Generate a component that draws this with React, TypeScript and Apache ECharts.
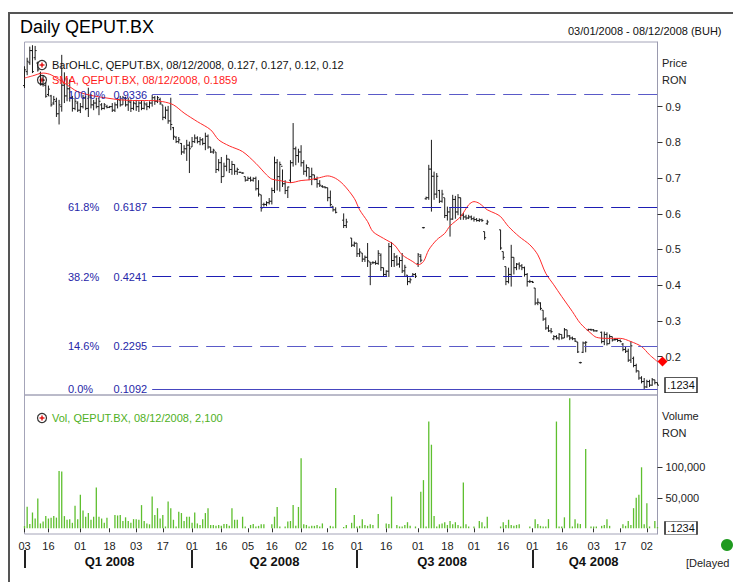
import React, { useEffect, useRef } from 'react';
import * as echarts from 'echarts';

const FONT = '"Liberation Sans", Arial, sans-serif';

// trading calendar (BUH) 03/01/2008 - 08/12/2008
const holidays = ['2008-04-28', '2008-05-01', '2008-05-02', '2008-12-01'];

// x-axis tick labels (trading-day index -> label)
const tickDays = [0, 9, 21, 32, 42, 52, 63, 74, 84, 93, 104, 114, 125, 136, 148, 159, 169, 180, 191, 202, 214, 224, 234];
const tickLabels = ['03', '16', '01', '18', '03', '17', '01', '16', '05', '16', '02', '16', '01', '16', '01', '18', '01', '16', '01', '16', '03', '17', '02'];
const quarterSepDays = [0, 63, 125, 191];
const quarterLabelDays = [32, 94, 157, 214];
const quarterLabels = ['Q1 2008', 'Q2 2008', 'Q3 2008', 'Q4 2008'];

// OHLC in thousandths of RON (null = no trade)
const highK = [
  1013, 1037, 1068, 1072, 1070, 1026, 998, 988, 967, 959,
  933, 930, 925, 919, 1045, 996, 980, 976, 930, 925,
  915, 910, 933, 930, 953, 935, 919, 925, 925, 910,
  910, 905, 902, 910, 912, 925, 930, 930, 928, 925,
  920, 915, 919, 915, 918, 915, 912, 915, 933, 930,
  930, 925, 905, 900, 902, 925, 843, 817, 815, 798,
  792, 807, 802, 815, 822, 817, 815, 812, 827, 822,
  787, 782, 773, 753, 759, 743, 765, 753, 748, 738,
  729, 718, 716, 704, 704, 704, 702, 704, 694, 653,
  631, 635, 644, 673, 760, 753, 746, 724, 694, 676,
  750, 854, 788, 782, 792, 750, 738, 729, 729, 709,
  704, 694, 680, 677, 673, 665, 621, 618, null, null,
  601, 586, null, 532, 522, 518, 503, 490, 483, 518,
  465, 467, 469, 498, 489, 449, 442, 518, 521, 490,
  484, 479, 490, 457, 428, 421, 434, 434, 490, 487,
  563, 648, 737, 807, 718, 714, 667, 667, 644, 620,
  616, 653, 650, 655, 645, 602, 597, 597, 595, 592,
  588, 587, 586, 550, 583, null, null, null, null, 555,
  494, 452, 449, 513, 478, 462, 464, 459, 452, 434,
  415, 412, 392, 363, 352, 330, 310, 288, 280, 260,
  260, 266, 262, 280, 275, 260, 256, 252, 241, 184,
  242, 243, 278, 278, 277, 274, null, 270, 270, 268,
  262, 256, 252, 251, 248, 238, 228, 222, 243, 200,
  180, 160, 145, 140, 135, 135, 140, 135, 127,
];
const lowK = [
  952, 988, 1017, 994, 1030, 998, 959, 956, 925, 929,
  900, 905, 871, 850, 886, 910, 915, 914, 886, 890,
  885, 882, 895, 890, 871, 895, 890, 895, 876, 890,
  892, 895, 896, 885, 885, 895, 900, 905, 900, 888,
  885, 890, 888, 885, 890, 892, 890, 895, 900, 905,
  910, 905, 862, 865, 852, 834, 807, 798, 797, 765,
  768, 748, 714, 787, 798, 797, 792, 792, 778, 782,
  770, 768, 714, 719, 686, 704, 719, 714, 709, 709,
  709, 714, 712, 690, 692, 690, 690, 665, 648, 606,
  620, 621, 626, 626, 658, 665, 662, 675, 655, 644,
  686, 732, 736, 743, 732, 709, 704, 694, 680, 694,
  673, 675, 673, 671, 635, 620, 606, 601, null, null,
  560, 560, null, 507, 507, 479, 479, 465, 465, 451,
  400, 459, 457, 457, 440, 423, 423, 423, 451, 451,
  454, 449, 434, 423, 400, 405, 423, 420, 451, 464,
  559, 639, 639, 606, 639, 644, 630, 631, 588, 581,
  536, 583, 586, 596, 583, 583, 583, 585, 582, 578,
  578, 577, 577, 527, 569, null, null, null, null, 499,
  471, 400, 405, 396, 430, 442, 444, 442, 424, 396,
  406, 406, 344, 344, 330, 300, 275, 269, 265, 246,
  248, 246, 248, 252, 253, 246, 246, 241, 210, 182,
  210, 212, 272, 272, 270, 270, null, 237, 232, 231,
  236, 242, 244, 241, 240, 215, 210, 185, 182, 170,
  155, 135, 125, 109, 112, 115, 118, 122, 120,
];
const openK = [
  959, 998, 1023, 1057, 1037, 1022, 993, 964, 959, 934,
  930, 910, 915, 880, 900, 960, 930, 950, 925, 895,
  910, 890, 900, 925, 895, 925, 905, 910, 900, 905,
  895, 900, 898, 900, 890, 905, 918, 905, 922, 905,
  912, 895, 908, 900, 910, 895, 905, 900, 910, 925,
  915, 920, 905, 870, 890, 860, 841, 814, 802, 797,
  773, 782, 792, 787, 802, 812, 802, 807, 797, 817,
  787, 773, 773, 724, 743, 704, 733, 753, 724, 738,
  719, 716, 714, 704, 694, 699, 694, 699, 670, 653,
  626, 626, 631, 635, 665, 743, 704, 733, 684, 665,
  694, 743, 782, 763, 773, 743, 719, 729, 704, 709,
  696, 684, 677, 675, 673, 645, 621, 611, null, null,
  582, 567, null, 532, 512, 518, 488, 490, 473, 478,
  465, 463, 463, 461, 484, 449, 430, 439, 508, 469,
  479, 459, 469, 440, 428, 410, 425, 430, 460, 480,
  561, 642, 645, 725, 705, 655, 665, 635, 645, 595,
  605, 585, 640, 605, 645, 596, 591, 588, 591, 586,
  584, 581, 583, 550, 572, null, null, null, null, 555,
  494, 452, 410, 430, 478, 449, 459, 454, 449, 430,
  410, 410, 392, 350, 350, 330, 305, 280, 272, 250,
  256, 252, 262, 252, 275, 258, 252, 250, 241, 183,
  212, 238, 274, 276, 275, 272, null, 268, 242, 262,
  236, 256, 248, 248, 245, 235, 220, 215, 190, 195,
  175, 160, 140, 130, 115, 130, 120, 135, 127,
];
const closeK = [
  1003, 1027, 1057, 998, 1057, 1003, 964, 974, 929, 949,
  905, 920, 880, 905, 960, 930, 950, 925, 895, 915,
  890, 900, 925, 895, 930, 905, 910, 900, 915, 895,
  905, 898, 900, 890, 905, 920, 905, 925, 905, 915,
  895, 910, 900, 910, 895, 908, 900, 910, 925, 915,
  925, 910, 870, 890, 860, 850, 817, 802, 807, 773,
  782, 792, 782, 802, 812, 802, 807, 797, 817, 787,
  773, 778, 724, 743, 704, 733, 753, 724, 738, 719,
  724, 716, 714, 694, 699, 694, 699, 670, 655, 616,
  626, 631, 635, 665, 743, 704, 738, 684, 665, 675,
  743, 782, 763, 773, 743, 719, 729, 704, 709, 696,
  684, 680, 675, 673, 645, 626, 611, 604, null, null,
  567, 577, null, 512, 517, 488, 493, 473, 478, 468,
  459, 463, 461, 489, 449, 430, 439, 508, 469, 479,
  459, 469, 440, 450, 410, 415, 430, 425, 485, 470,
  561, 645, 725, 705, 655, 705, 635, 655, 595, 605,
  585, 640, 605, 645, 596, 591, 588, 591, 586, 584,
  581, 583, 581, 533, 577, null, null, null, null, 504,
  478, 410, 430, 478, 449, 459, 454, 449, 430, 410,
  410, 408, 350, 352, 335, 305, 280, 272, 270, 256,
  252, 262, 252, 275, 258, 252, 250, 243, 213, 183,
  238, 240, 276, 275, 272, 272, null, 242, 262, 236,
  256, 246, 248, 245, 242, 220, 215, 190, 230, 175,
  160, 140, 130, 115, 130, 120, 135, 127, 120,
];

const volume = [
  3800, 35500, 7000, 25700, 16000, 49000, 8000, 11000, 20000, 16000,
  17500, 20000, 17500, 94000, 93000, 20000, 14000, 15000, 9000, 37000,
  15000, 55000, 29000, 19000, 25000, 14000, 19000, 67000, 19000, 16000,
  9000, 17500, 0, 0, 22000, 21000, 22000, 12000, 18000, 12000,
  9000, 15000, 15000, 14000, 38000, 12000, 8000, 6500, 52000, 22000,
  33000, 16000, 22000, 3000, 44000, 33000, 14000, 3000, 27000, 25000,
  12000, 19000, 19000, 9000, 26000, 8000, 5500, 15000, 25000, 33000,
  5500, 5500, 4000, 5500, 4000, 7000, 7000, 4000, 33000, 14000,
  14000, 0, 19000, 3000, 0, 5500, 7000, 3000, 4000, 6500,
  6500, 0, 0, 6500, 19000, 35000, 3000, 0, 3000, 11000,
  12000, 38000, 4000, 35000, 115000, 6500, 5500, 3000, 4000, 4000,
  5500, 3000, 8000, 0, 0, 4000, 3000, 66000, 0, 0,
  2000, 5500, 0, 9000, 22000, 3000, 4000, 15000, 5500, 4000,
  6500, 5500, 0, 23500, 0, 0, 8000, 7000, 52000, 0,
  5500, 3000, 3000, 5500, 10000, 4000, 0, 3000, 0, 60000,
  79000, 3000, 175000, 137000, 20000, 3000, 6500, 8000, 10000, 5500,
  12000, 6500, 10000, 5500, 3000, 75000, 6500, 3000, 0, 3000,
  0, 12000, 10000, 3000, 19000, 0, 0, 0, 0, 3000,
  10000, 5500, 14000, 5500, 4000, 5500, 6500, 0, 0, 0,
  3000, 0, 15000, 7000, 4000, 3000, 3000, 15000, 0, 0,
  175000, 3000, 3000, 18000, 0, 213000, 3000, 15000, 8000, 7000,
  0, 130000, 0, 3000, 3000, 3000, 0, 4000, 5500, 15000,
  4000, 0, 0, 0, 0, 6500, 4000, 12000, 5500, 33000,
  50000, 55000, 100000, 6500, 41000, 3000, 0, 12000, 2100,
];

// SMA (trading-day index, value)
const smaDays = [0, 3, 7, 10, 15, 20, 26, 31, 36, 42, 48, 52, 56, 60, 65, 70, 73, 77, 82, 87, 91, 93, 96, 100, 104, 107, 111, 114, 117, 120, 124, 126, 129, 131, 135, 139, 142, 146, 148, 150, 152, 155, 158, 160, 164, 167, 169, 171, 174, 177, 179, 182, 186, 190, 193, 196, 199, 202, 206, 209, 213, 215, 219, 224, 228, 232, 235, 238];
const smaVals = [0.98, 0.986, 0.994, 0.989, 0.966, 0.942, 0.93, 0.924, 0.919, 0.917, 0.917, 0.914, 0.905, 0.882, 0.858, 0.835, 0.807, 0.79, 0.774, 0.741, 0.709, 0.697, 0.693, 0.687, 0.693, 0.695, 0.701, 0.706, 0.699, 0.681, 0.643, 0.611, 0.578, 0.55, 0.531, 0.513, 0.485, 0.466, 0.457, 0.466, 0.499, 0.527, 0.545, 0.566, 0.592, 0.625, 0.634, 0.629, 0.611, 0.601, 0.592, 0.564, 0.536, 0.513, 0.485, 0.433, 0.401, 0.368, 0.326, 0.293, 0.265, 0.254, 0.251, 0.251, 0.242, 0.228, 0.205, 0.1859];

// Fibonacci retracement levels
const fibPct = ['100.0%', '61.8%', '38.2%', '14.6%', '0.0%'];
const fibVal = [0.9336, 0.6187, 0.4241, 0.2295, 0.1092];
const fibStartDay = 48;

const priceTicks = [0.2, 0.3, 0.4, 0.5, 0.6, 0.7, 0.8, 0.9];
const volTicks = [50000, 100000];
const lastClose = 0.12;
const lastVol = 2100;

function buildDates(): string[] {
  const out: string[] = [];
  const end = Date.UTC(2008, 11, 8);
  for (let t = Date.UTC(2008, 0, 3); t <= end; t += 86400000) {
    const d = new Date(t);
    const wd = d.getUTCDay();
    if (wd === 0 || wd === 6) continue;
    const y = d.getUTCFullYear();
    const m = String(d.getUTCMonth() + 1).padStart(2, '0');
    const dd = String(d.getUTCDate()).padStart(2, '0');
    if (holidays.includes(`${y}-${m}-${dd}`)) continue;
    out.push(`${dd}/${m}/${y}`);
  }
  return out;
}

export default function App() {
  const ref = useRef<HTMLDivElement>(null);
  useEffect(() => {
    if (!ref.current) return;
    const chart = echarts.init(ref.current, null, { renderer: 'svg' });
    const dates = buildDates();
    const last = dates.length - 1;

    const ohlc: number[][] = [];
    for (let i = 0; i < highK.length; i++) {
      if (highK[i] == null) continue;
      ohlc.push([i, (openK[i] as number) / 1000, (highK[i] as number) / 1000, (lowK[i] as number) / 1000, (closeK[i] as number) / 1000]);
    }
    const sma = smaDays.map((d, k) => [d, smaVals[k]]);

    const tickMap: Record<number, string> = {};
    tickDays.forEach((d, k) => (tickMap[d] = tickLabels[k]));
    const qMap: Record<number, string> = {};
    quarterLabelDays.forEach((d, k) => (qMap[d] = quarterLabels[k]));

    const fibColors = ['#5a5ac8', '#1e1eb4', '#1e1eb4', '#5a5ac8', '#4646c0'];
    const fibLines = fibVal.map((v, k) => [
      {
        coord: [dates[fibStartDay], v],
        lineStyle: { color: fibColors[k], width: 1, opacity: 1, type: k === fibVal.length - 1 ? 'solid' : [19, 8] },
        label: { show: false },
      },
      { coord: [dates[last], v] },
    ]);

    const txt = (x: number, y: number, text: string, fill: string, size = 11, extra: any = {}) => ({
      type: 'text',
      x,
      y,
      z: 100,
      style: { text, fill, font: `${extra.weight || 'normal'} ${size}px ${FONT}`, verticalAlign: 'middle', align: extra.align || 'left' },
    });
    const icon = (cx: number, cy: number) => ({
      type: 'group',
      z: 100,
      children: [
        { type: 'circle', shape: { cx, cy, r: 4.5 }, style: { fill: '#fff', stroke: '#333', lineWidth: 1.2 } },
        { type: 'line', shape: { x1: cx - 2.5, y1: cy, x2: cx + 2.5, y2: cy }, style: { stroke: '#e00000', lineWidth: 1.3 } },
        { type: 'line', shape: { x1: cx, y1: cy - 2.5, x2: cx, y2: cy + 2.5 }, style: { stroke: '#e00000', lineWidth: 1.3 } },
      ],
    });

    const baseGraphic: any[] = [
      { type: 'line', z: 100, shape: { x1: 9, y1: 13, x2: 9, y2: 582 }, style: { stroke: '#555', lineWidth: 2 } },
      { type: 'line', z: 100, shape: { x1: 8, y1: 13, x2: 733, y2: 13 }, style: { stroke: '#555', lineWidth: 2 } },
      txt(20, 27, 'Daily QEPUT.BX', '#000', 18),
      txt(568, 31, '03/01/2008 - 08/12/2008 (BUH)', '#111', 11),
      icon(42, 65),
      txt(52, 65, 'BarOHLC, QEPUT.BX, 08/12/2008, 0.127, 0.127, 0.12, 0.12', '#111', 11),
      icon(42, 80),
      txt(52, 80, 'SMA, QEPUT.BX, 08/12/2008, 0.1859', '#ff1a1a', 11),
      txt(662, 63, 'Price', '#222', 11),
      txt(662, 80, 'RON', '#222', 11),
      txt(662, 416, 'Volume', '#222', 11),
      txt(662, 433, 'RON', '#222', 11),
      icon(42, 418),
      txt(52, 418, 'Vol, QEPUT.BX, 08/12/2008, 2,100', '#4fb024', 11),
      { type: 'circle', z: 100, shape: { cx: 727, cy: 545, r: 6 }, style: { fill: '#1f9a1f' } },
      txt(686, 563, '[Delayed', '#222', 11),
    ];

    const option: any = {
      animation: false,
      backgroundColor: '#ffffff',
      textStyle: { fontFamily: FONT },
      grid: [
        { left: 24.5, top: 42, width: 633, height: 353, show: true, borderColor: '#a4a4b8', borderWidth: 1 },
        { left: 24.5, top: 395, width: 633, height: 139, show: true, borderColor: '#a4a4b8', borderWidth: 1 },
      ],
      xAxis: [
        {
          type: 'category', gridIndex: 0, data: dates, boundaryGap: false,
          axisLine: { show: false }, axisTick: { show: false }, axisLabel: { show: false }, splitLine: { show: false },
        },
        {
          type: 'category', gridIndex: 1, data: dates, boundaryGap: false, position: 'bottom',
          axisLine: { show: false },
          axisTick: { show: true, interval: (i: number) => tickMap[i] !== undefined, length: 4, lineStyle: { color: '#333' } },
          axisLabel: {
            interval: (i: number) => tickMap[i] !== undefined,
            formatter: (_v: string, i: number) => tickMap[i] || '',
            fontSize: 11, color: '#222', margin: 6, fontFamily: FONT,
          },
          splitLine: { show: false },
        },
        {
          type: 'category', gridIndex: 1, data: dates, boundaryGap: false, position: 'bottom', offset: 16,
          axisLine: { show: false },
          axisTick: { show: true, interval: (i: number) => quarterSepDays.includes(i), length: 18, lineStyle: { color: '#222', width: 2 } },
          axisLabel: {
            interval: (i: number) => qMap[i] !== undefined,
            formatter: (_v: string, i: number) => qMap[i] || '',
            fontSize: 13, fontWeight: 'bold', color: '#111', margin: 5, fontFamily: FONT,
          },
          splitLine: { show: false },
        },
      ],
      yAxis: [
        {
          type: 'value', gridIndex: 0, position: 'right', min: 0.0924, max: 1.081, splitLine: { show: false },
          axisLine: { show: true, lineStyle: { color: '#9a9aae' } },
          axisTick: { show: true, length: 5, customValues: priceTicks, lineStyle: { color: '#333' } },
          axisLabel: { customValues: priceTicks, formatter: (v: number) => v.toFixed(1), fontSize: 11, color: '#222', margin: 8, fontFamily: FONT },
        },
        {
          type: 'value', gridIndex: 1, position: 'right', min: -9340, max: 218500, splitLine: { show: false },
          axisLine: { show: true, lineStyle: { color: '#9a9aae' } },
          axisTick: { show: true, length: 5, customValues: volTicks, lineStyle: { color: '#333' } },
          axisLabel: { customValues: volTicks, formatter: (v: number) => v.toLocaleString('en-US'), fontSize: 11, color: '#222', margin: 8, fontFamily: FONT },
        },
      ],
      series: [
        {
          type: 'custom',
          name: 'BarOHLC',
          xAxisIndex: 0,
          yAxisIndex: 0,
          data: ohlc,
          encode: { x: 0, y: [1, 2, 3, 4] },
          renderItem: (_p: any, api: any) => {
            const i = api.value(0);
            const x = api.coord([i, api.value(2)])[0];
            const yO = api.coord([i, api.value(1)])[1];
            let yH = api.coord([i, api.value(2)])[1];
            let yL = api.coord([i, api.value(3)])[1];
            const yC = api.coord([i, api.value(4)])[1];
            if (yL - yH < 1) { yH -= 0.5; yL += 0.5; }
            const st = { stroke: '#1c1c1c', lineWidth: 1 };
            return {
              type: 'group',
              children: [
                { type: 'line', shape: { x1: x, y1: yH, x2: x, y2: yL }, style: st },
                { type: 'line', shape: { x1: x - 1.5, y1: yO, x2: x, y2: yO }, style: st },
                { type: 'line', shape: { x1: x, y1: yC, x2: x + 1.5, y2: yC }, style: st },
              ],
            };
          },
          markLine: {
            silent: true,
            symbol: ['none', 'none'],
            label: { show: false },
            lineStyle: { color: '#2a2ab4', width: 1, opacity: 1 },
            emphasis: { disabled: true },
            data: fibLines,
          },
          markPoint: {
            silent: true,
            data: [
              {
                coord: [dates[last], lastClose], symbol: 'rect', symbolSize: [32, 15], symbolOffset: [23.5, 0],
                itemStyle: { color: '#fff', borderColor: '#222', borderWidth: 1 },
                label: { show: true, position: 'inside', formatter: '.1234', color: '#111', fontSize: 11, fontFamily: FONT },
              },
            ],
          },
          z: 2,
        },
        {
          type: 'line',
          name: 'SMA',
          xAxisIndex: 0,
          yAxisIndex: 0,
          data: sma,
          showSymbol: false,
          symbol: 'none',
          smooth: 0.3,
          lineStyle: { color: '#ff2a2a', width: 1 },
          markPoint: {
            silent: true,
            data: [
              {
                coord: [dates[last], smaVals[smaVals.length - 1]], symbol: 'diamond', symbolSize: [10, 10], symbolOffset: [5, 0],
                itemStyle: { color: '#ff0000' }, label: { show: false },
              },
            ],
          },
          z: 3,
        },
        {
          type: 'bar',
          name: 'Vol',
          xAxisIndex: 1,
          yAxisIndex: 1,
          data: volume,
          barWidth: 1.3,
          itemStyle: { color: '#5ebf2e' },
          markPoint: {
            silent: true,
            data: [
              {
                coord: [dates[last], lastVol], symbol: 'rect', symbolSize: [32, 13], symbolOffset: [23.5, 1],
                itemStyle: { color: '#fff', borderColor: '#222', borderWidth: 1 },
                label: { show: true, position: 'inside', formatter: '.1234', color: '#111', fontSize: 11, fontFamily: FONT },
              },
            ],
          },
        },
      ],
      graphic: baseGraphic,
    };
    chart.setOption(option);

    // Fibonacci labels placed at the pixel rows of their levels
    const xStart = chart.convertToPixel({ xAxisIndex: 0 }, dates[fibStartDay]) as number;
    const fibTexts: any[] = [];
    fibVal.forEach((v, k) => {
      const y = chart.convertToPixel({ yAxisIndex: 0 }, v) as number;
      fibTexts.push(txt(68, y, fibPct[k], '#2626a8', 11));
      fibTexts.push(txt(xStart - 5, y, v.toFixed(4), '#2626a8', 11, { align: 'right' }));
    });
    chart.setOption({ graphic: [...baseGraphic, ...fibTexts] });

    return () => chart.dispose();
  }, []);
  return <div ref={ref} style={{ position: 'absolute', left: 0, top: 0, width: 733, height: 582 }} />;
}
